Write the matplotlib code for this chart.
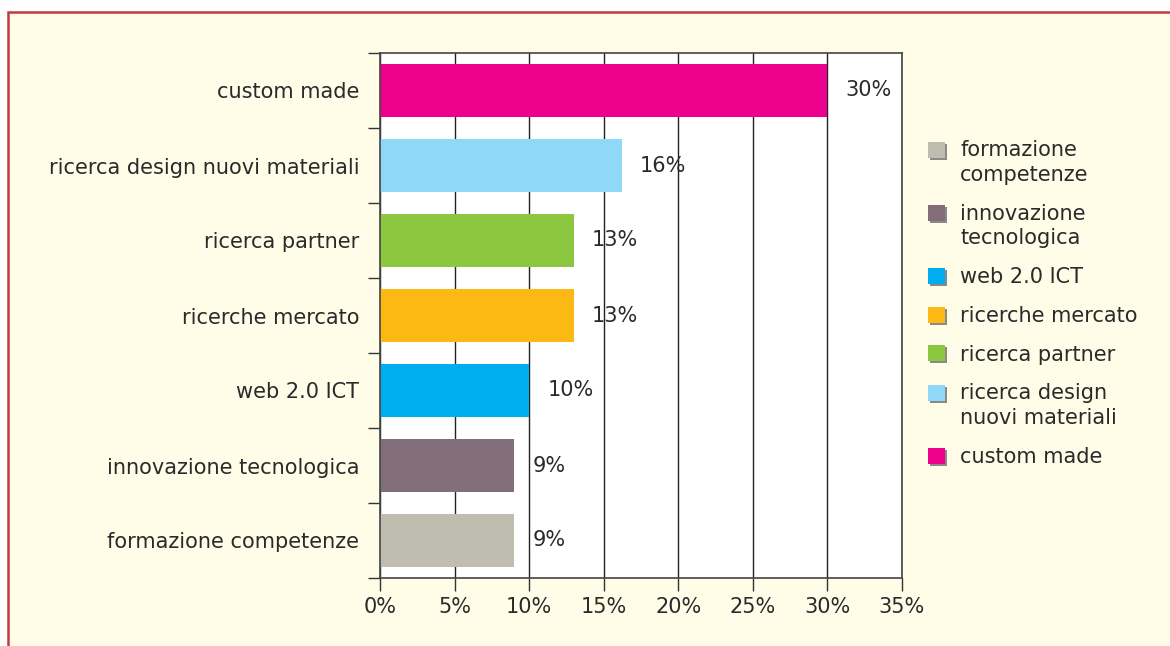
import numpy as np
import matplotlib
matplotlib.use("Agg")
import matplotlib.pyplot as plt
from matplotlib.patches import Rectangle
from matplotlib.legend_handler import HandlerPatch
from matplotlib import patheffects

# bottom to top
categories = ["formazione competenze", "innovazione tecnologica", "web 2.0 ICT",
              "ricerche mercato", "ricerca partner", "ricerca design nuovi materiali",
              "custom made"]
legend_labels = ["formazione\ncompetenze", "innovazione\ntecnologica", "web 2.0 ICT",
                 "ricerche mercato", "ricerca partner", "ricerca design\nnuovi materiali",
                 "custom made"]
values = [9, 9, 10, 13, 13, 16.2, 30]
value_labels = ["9%", "9%", "10%", "13%", "13%", "16%", "30%"]
colors = ["#bfbdb0", "#816e79", "#00aeef", "#fdb913", "#8dc63f", "#8fd8f8", "#ec008c"]
xticks = [0, 5, 10, 15, 20, 25, 30, 35]

W, H = 1170, 646
txt = "#2a2a2a"
fs = 15
lsp = 1.3

fig = plt.figure(figsize=(W / 100, H / 100), dpi=100, facecolor="white")
# cream panel with red border (only left/top edges visible)
fig.patches.append(Rectangle((8 / W, -0.05), 1.1, 1 - 12 / H + 0.05, transform=fig.transFigure,
                             facecolor="#fffde8", edgecolor="#c43a3e", linewidth=1.8, zorder=-1))

ax = fig.add_axes([380 / W, 1 - 578 / H, 522 / W, 525 / H])
ax.set_facecolor("white")

pos = np.arange(len(categories))
ax.barh(pos, values, height=0.7, color=colors, zorder=3)
ax.set_ylim(-0.5, len(categories) - 0.5)
ax.set_xlim(0, 35)

ax.set_xticks(xticks)
ax.set_xticklabels([f"{t}%" for t in xticks])
ax.set_yticks(pos)
ax.set_yticklabels(categories)
ax.set_yticks(np.arange(-0.5, len(categories), 1.0), minor=True)
ax.tick_params(axis="y", which="major", length=0, pad=15, labelsize=fs, labelcolor=txt)
ax.tick_params(axis="y", which="minor", length=9, width=1.0, color="#333333", direction="out")
ax.tick_params(axis="x", which="major", length=9, width=1.0, color="#333333", direction="out",
               pad=5, labelsize=fs, labelcolor=txt)
ax.xaxis.grid(True, color="#222222", linewidth=1.0, zorder=1)
ax.set_axisbelow(True)
for s in ax.spines.values():
    s.set_color("#444444")
    s.set_linewidth(1.2)
    s.set_zorder(4)

for p, v, lab in zip(pos, values, value_labels):
    ax.annotate(lab, (v, p), xytext=(13, 0), textcoords="offset points",
                va="center", ha="left", fontsize=fs, color=txt, zorder=5)


def square(legend, orig_handle, xdescent, ydescent, width, height, fontsize):
    # put the square next to the first line of a two-line label
    dy = getattr(orig_handle, "lift", 0)
    return Rectangle((-xdescent, -ydescent + dy), width, height)


shadow = [patheffects.SimplePatchShadow(offset=(1.5, -1.5), shadow_rgbFace="#8a8a8a", alpha=1.0),
          patheffects.Normal()]
handles = []
for c, lab in zip(colors, legend_labels):
    r = Rectangle((0, 0), 1, 1, facecolor=c, edgecolor="none", path_effects=shadow)
    r.lift = fs * lsp / 2 if "\n" in lab else 0
    handles.append(r)

leg = fig.legend(handles, legend_labels, loc="upper left", bbox_to_anchor=(928 / W, 1 - 140 / H),
                 frameon=False, fontsize=fs, handlelength=0.8, handleheight=0.8,
                 handletextpad=0.75, labelspacing=0.9, borderaxespad=0, borderpad=0,
                 handler_map={Rectangle: HandlerPatch(patch_func=square)})
for t in leg.get_texts():
    t.set_color(txt)
    t.set_linespacing(lsp)

fig.savefig("out.png", dpi=100, facecolor=fig.get_facecolor())
